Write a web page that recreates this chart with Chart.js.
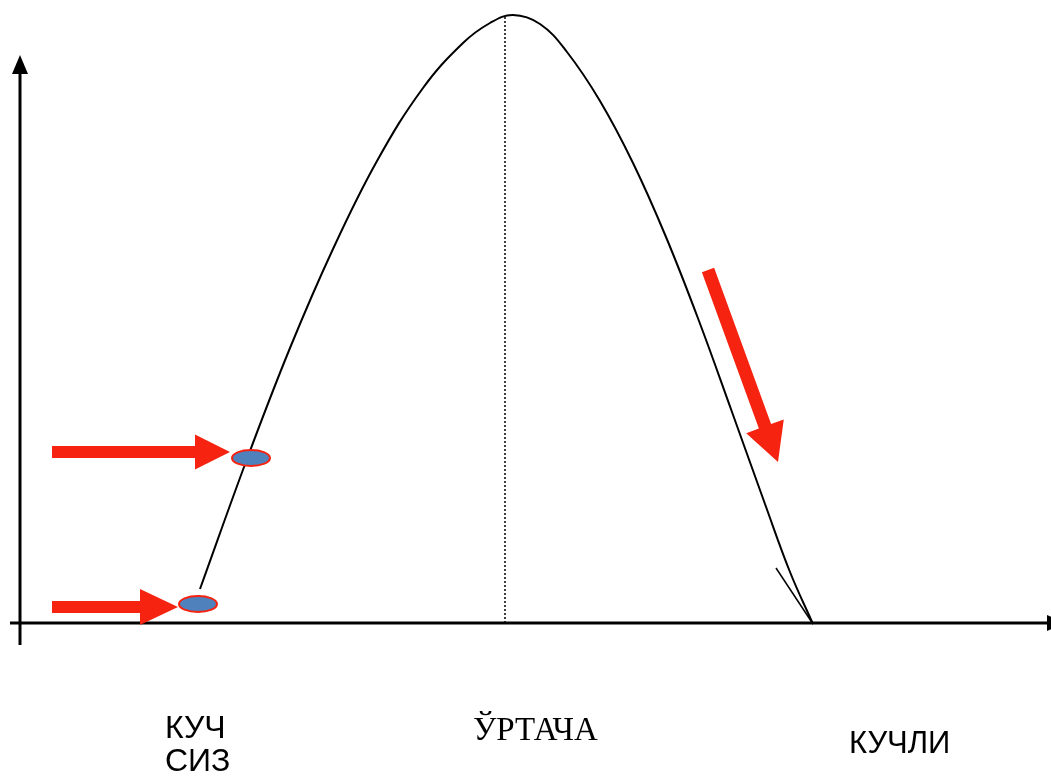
<!DOCTYPE html>
<html>
<head>
<meta charset="utf-8">
<script src="https://cdn.jsdelivr.net/npm/chart.js@4.4.1/dist/chart.umd.min.js"></script>
<style>
  html, body { margin: 0; padding: 0; background: #fff; }
  #wrap { width: 1051px; height: 776px; position: relative; }
</style>
</head>
<body>
<div id="wrap"><canvas id="curveChart"></canvas></div>
<script>
// Кривая (x - кучланиш даражаси, y - натижа), координаты осей от начала координат
const curveX = [180, 227, 270, 313, 357, 403, 443, 470, 493, 520, 547, 580, 613, 646, 679, 712, 745, 770, 793];
const curveY = [34, 164, 275, 374, 462, 535, 580, 600, 608, 599, 571, 522, 460, 386, 302, 211, 119, 51, -1];

// Средняя линия (пунктир)
const meanX = 485;
const meanTop = 608;

// Короткий отрезок у конца кривой
const tailX = [756, 793];
const tailY = [55, -1];

// Отметки на кривой (эллипсы)
const markerX = [231, 178];
const markerY = [165, 19];

// Подписи уровней
const levelLabels = [['КУЧ', 'СИЗ'], ['ЎРТАЧА'], ['КУЧЛИ']];
const levelX = [145, 453, 829];
const levelY = [-115, -117, -130];

const RED = '#f5230f';
const BLUE = '#4f81bd';

const ctx = document.getElementById('curveChart');

// рисуем стрелки, эллипсы, наконечники осей и подписи
const decorPlugin = {
    id: 'decor',
    afterDatasetsDraw(chart, args, opts) {
        const c = chart.ctx;
        const xs = chart.scales.x;
        const ys = chart.scales.y;
        const px = v => xs.getPixelForValue(v);
        const py = v => ys.getPixelForValue(v);

        // красные стрелки
        opts.arrows.forEach(a => {
            const x1 = px(a.from[0]), y1 = py(a.from[1]);
            const x2 = px(a.to[0]), y2 = py(a.to[1]);
            const ang = Math.atan2(y2 - y1, x2 - x1);
            const len = Math.hypot(x2 - x1, y2 - y1);
            c.save();
            c.translate(x1, y1);
            c.rotate(ang);
            c.fillStyle = RED;
            c.beginPath();
            c.moveTo(0, -a.shaft / 2);
            c.lineTo(len - a.headLen, -a.shaft / 2);
            c.lineTo(len - a.headLen, -a.headW / 2);
            c.lineTo(len, 0);
            c.lineTo(len - a.headLen, a.headW / 2);
            c.lineTo(len - a.headLen, a.shaft / 2);
            c.lineTo(0, a.shaft / 2);
            c.closePath();
            c.fill();
            c.restore();
        });

        // эллипсы
        markerX.forEach((mx, i) => {
            c.save();
            c.beginPath();
            c.ellipse(px(mx), py(markerY[i]), 19, 8, 0, 0, Math.PI * 2);
            c.fillStyle = BLUE;
            c.fill();
            c.lineWidth = 2;
            c.strokeStyle = RED;
            c.stroke();
            c.restore();
        });

        // наконечники осей
        c.save();
        c.fillStyle = '#000';
        const ox = px(0), topY = py(opts.yAxisTip);
        c.beginPath();
        c.moveTo(ox, topY);
        c.lineTo(ox - 8, topY + 19);
        c.lineTo(ox + 8, topY + 19);
        c.closePath();
        c.fill();
        const oy = py(0), rightX = px(opts.xAxisTip);
        c.beginPath();
        c.moveTo(rightX, oy);
        c.lineTo(rightX - 19, oy - 8);
        c.lineTo(rightX - 19, oy + 8);
        c.closePath();
        c.fill();
        c.restore();

        // подписи
        c.save();
        c.fillStyle = '#000';
        c.textBaseline = 'alphabetic';
        c.textAlign = 'left';
        levelLabels.forEach((lines, i) => {
            c.font = opts.fonts[i];
            lines.forEach((t, j) => {
                c.fillText(t, px(levelX[i]), py(levelY[i]) + j * 33);
            });
        });
        c.restore();
    }
};

new Chart(ctx, {
    type: 'scatter',
    data: {
        datasets: [
            {
                label: 'ось Y',
                data: [{ x: 0, y: -22 }, { x: 0, y: 555 }],
                showLine: true,
                borderColor: '#000',
                borderWidth: 3,
                pointRadius: 0
            },
            {
                label: 'ось X',
                data: [{ x: -10, y: 0 }, { x: 1031, y: 0 }],
                showLine: true,
                borderColor: '#000',
                borderWidth: 3,
                pointRadius: 0
            },
            {
                label: 'ўртача',
                data: [{ x: meanX, y: 0 }, { x: meanX, y: meanTop }],
                showLine: true,
                borderColor: '#000',
                borderWidth: 1.5,
                borderDash: [2, 2],
                pointRadius: 0
            },
            {
                label: 'эгри чизиқ',
                data: curveX.map((x, i) => ({ x: x, y: curveY[i] })),
                showLine: true,
                borderColor: '#000',
                borderWidth: 2,
                tension: 0.4,
                pointRadius: 0
            },
            {
                label: 'кесма',
                data: tailX.map((x, i) => ({ x: x, y: tailY[i] })),
                showLine: true,
                borderColor: '#000',
                borderWidth: 1.5,
                pointRadius: 0
            }
        ]
    },
    options: {
        responsive: true,
        maintainAspectRatio: false,
        animation: false,
        layout: { padding: 0 },
        clip: false,
        scales: {
            x: { type: 'linear', min: -20, max: 1031, display: false },
            y: { type: 'linear', min: -153, max: 623, display: false }
        },
        plugins: {
            legend: { display: false },
            tooltip: { enabled: false },
            decor: {
                yAxisTip: 568,
                xAxisTip: 1046,
                arrows: [
                    { from: [32, 171], to: [210, 171], shaft: 12, headLen: 35, headW: 35 },
                    { from: [32, 16], to: [158, 16], shaft: 12, headLen: 38, headW: 36 },
                    { from: [688, 353], to: [758, 161], shaft: 13, headLen: 38, headW: 40 }
                ],
                fonts: [
                    '32px "Liberation Sans", Arial, sans-serif',
                    '33px "Liberation Serif", "Times New Roman", serif',
                    '31px "Liberation Sans", Arial, sans-serif'
                ]
            }
        }
    },
    plugins: [decorPlugin]
});
</script>
</body>
</html>
